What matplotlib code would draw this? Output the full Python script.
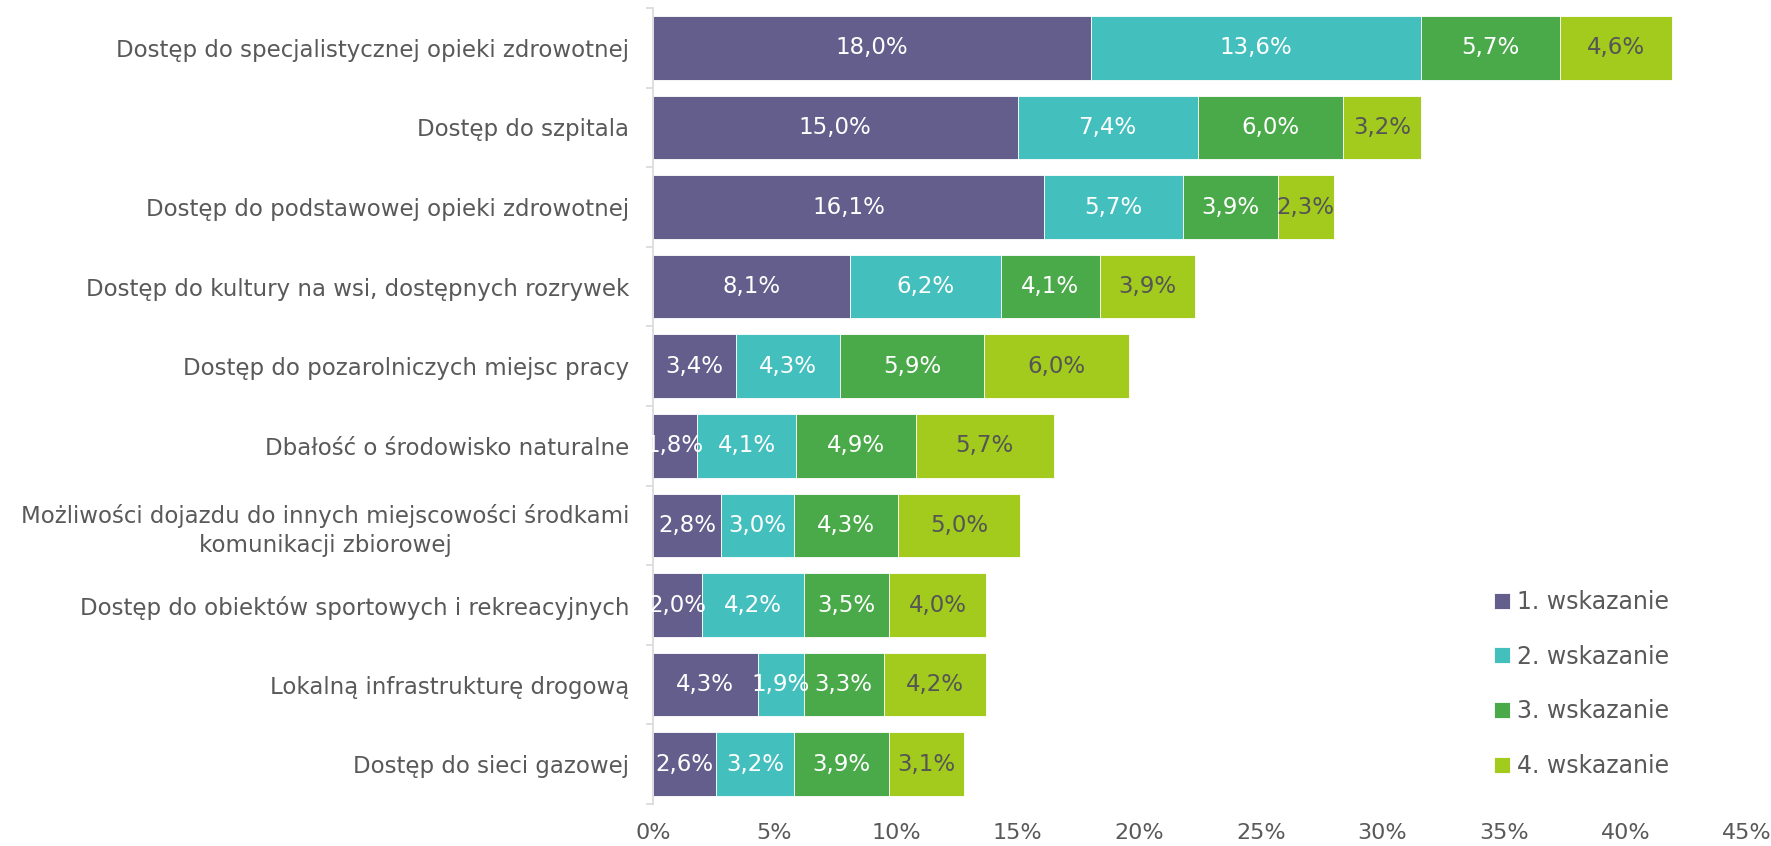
import numpy as np
import matplotlib.pyplot as plt
from matplotlib.ticker import FixedLocator

# --- dane ---
categories = [
    "Dostęp do specjalistycznej opieki zdrowotnej",
    "Dostęp do szpitala",
    "Dostęp do podstawowej opieki zdrowotnej",
    "Dostęp do kultury na wsi, dostępnych rozrywek",
    "Dostęp do pozarolniczych miejsc pracy",
    "Dbałość o środowisko naturalne",
    "Możliwości dojazdu do innych miejscowości środkami\nkomunikacji zbiorowej",
    "Dostęp do obiektów sportowych i rekreacyjnych",
    "Lokalną infrastrukturę drogową",
    "Dostęp do sieci gazowej",
]
series_names = ["1. wskazanie", "2. wskazanie", "3. wskazanie", "4. wskazanie"]
w1 = [18.0, 15.0, 16.1, 8.1, 3.4, 1.8, 2.8, 2.0, 4.3, 2.6]
w2 = [13.6, 7.4, 5.7, 6.2, 4.3, 4.1, 3.0, 4.2, 1.9, 3.2]
w3 = [5.7, 6.0, 3.9, 4.1, 5.9, 4.9, 4.3, 3.5, 3.3, 3.9]
w4 = [4.6, 3.2, 2.3, 3.9, 6.0, 5.7, 5.0, 4.0, 4.2, 3.1]
xticks = [0, 5, 10, 15, 20, 25, 30, 35, 40, 45]

colors = ["#635E8C", "#43BFBD", "#4AAA4A", "#A2CB1E"]
label_colors = ["white", "white", "white", "#555555"]
GRAY = "#595959"

plt.rcParams['font.family'] = ['DejaVu Sans']

fig = plt.figure(figsize=(17.71, 8.46), dpi=100)
ax = fig.add_axes([0.3687, 0.0496, 0.6177, 0.9409])

y = np.arange(len(categories))
left = np.zeros(len(categories))
for vals, name, col, lc in zip([w1, w2, w3, w4], series_names, colors, label_colors):
    vals = np.array(vals)
    bars = ax.barh(y, vals, left=left, height=0.8, color=col, label=name,
                   edgecolor="white", linewidth=0.6)
    for b, v in zip(bars, vals):
        ax.text(b.get_x() + b.get_width() / 2, b.get_y() + b.get_height() / 2,
                f"{v:.1f}%".replace(".", ","), ha="center", va="center",
                fontsize=16.5, color=lc)
    left += vals

ax.set_ylim(len(categories) - 0.5, -0.5)
ax.set_xlim(0, 45)
ax.set_yticks(y)
ax.set_yticklabels(categories, fontsize=16.5, color=GRAY, multialignment="center",
                   linespacing=1.3)
ax.yaxis.set_minor_locator(FixedLocator(np.arange(-0.5, len(categories), 1)))
ax.tick_params(axis="y", which="major", length=0, pad=17)
ax.tick_params(axis="y", which="minor", length=5, color="#D9D9D9", width=1.2)
ax.set_xticks(xticks)
ax.set_xticklabels([f"{t}%" for t in xticks], fontsize=16, color=GRAY)
ax.tick_params(axis="x", length=0, pad=14)

for s in ["top", "right", "bottom"]:
    ax.spines[s].set_visible(False)
ax.spines["left"].set_color("#D9D9D9")
ax.spines["left"].set_linewidth(1.2)

leg = ax.legend(loc="lower right", bbox_to_anchor=(0.948, 0.006), frameon=False,
                fontsize=17, labelcolor=GRAY, handlelength=0.65, handleheight=0.65,
                handletextpad=0.3, labelspacing=1.3)

fig.savefig("out.png", dpi=100)
